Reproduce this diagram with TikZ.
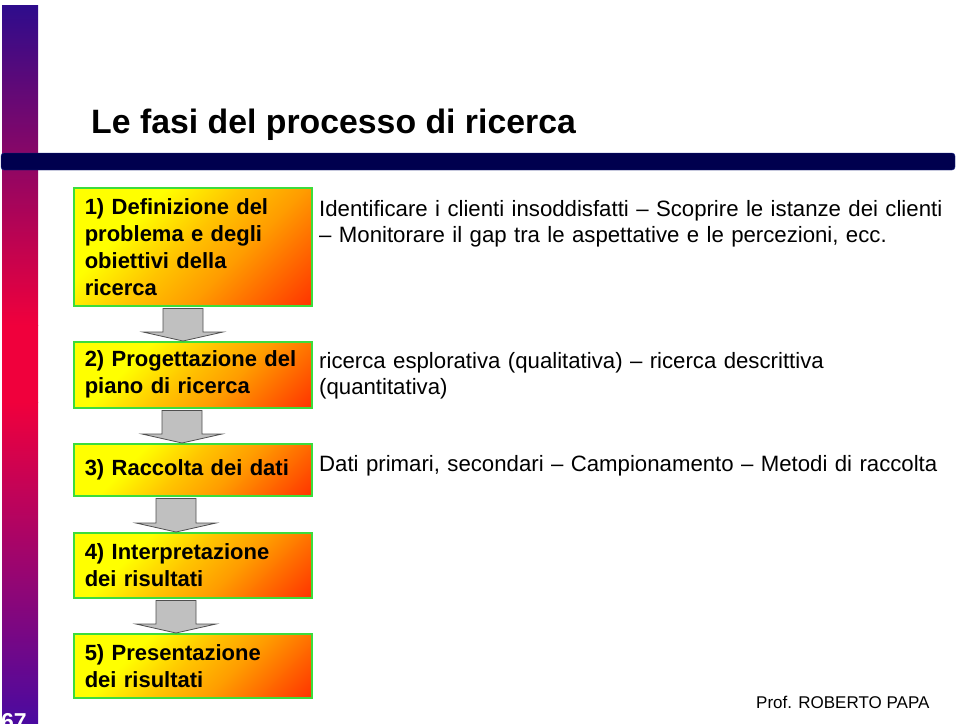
\documentclass[tikz,border=0pt]{standalone}
\usepackage{fontspec}
\setmainfont{Liberation Sans}
\usetikzlibrary{calc,positioning}
\tikzset{>=stealth}

\definecolor{phYellow}{HTML}{FFFF00}
\definecolor{phGold}{HTML}{FFC400}
\definecolor{phOrange}{HTML}{FF9C00}
\definecolor{phDeep}{HTML}{FF6400}
\definecolor{phRed}{HTML}{FF2800}
\definecolor{phGreen}{HTML}{3CDC3C}
\definecolor{barTop}{HTML}{2E0C8C}
\definecolor{barRed}{HTML}{F0003C}
\definecolor{barOrange}{HTML}{FF8C00}
\definecolor{barBottom}{HTML}{4A0AA0}
\definecolor{barNavy}{HTML}{00004E}
\definecolor{barEdge}{HTML}{1A2A8A}
\definecolor{arrowFill}{HTML}{C0C0C0}
\definecolor{arrowGray}{HTML}{505050}

\pgfdeclarehorizontalshading{phasefill}{100bp}{color(0bp)=(phYellow); color(33bp)=(phYellow); color(48bp)=(phGold); color(61bp)=(phOrange); color(74bp)=(phDeep); color(88bp)=(phRed); color(100bp)=(phRed)}

\tikzset{
  phase/.style={draw=phGreen, line width=1.5pt, shade, shading=phasefill,
    shading angle=-45, anchor=north west, minimum width=238pt,
    text width=216pt, inner xsep=11pt, inner ysep=0pt, align=left,
    font=\bfseries\fontsize{22}{27}\selectfont},
  desc/.style={anchor=base west, inner sep=0pt, text width=640pt, align=left,
    font=\fontsize{22.2}{26}\selectfont},
  flowarrow/.style={draw=arrowGray, fill=arrowFill, line width=0.8pt}
}

% block arrow between two phases, centred at x = #3
\newcommand{\phasearrow}[3]{%
  \coordinate (top) at (#1.south -| #3,0);
  \coordinate (tip) at (#2.north -| #3,0);
  \draw[flowarrow] ($(top)+(-20,2)$) -- ($(top)+(20,2)$) -- ($(tip)+(20,-9)$)
    -- ($(tip)+(40,-9)$) -- (tip) -- ($(tip)+(-40,-9)$) -- ($(tip)+(-20,-9)$) -- cycle;}

\begin{document}
\begin{tikzpicture}[x=1pt,y=-1pt]
\useasboundingbox (0,0) rectangle (960,723);

% side bar and rule
\shade[top color=barTop, bottom color=barRed] (2,5) rectangle (38,325);
\shade[top color=barRed, middle color=barOrange, bottom color=barRed] (2,325) rectangle (38,402);
\shade[top color=barRed, bottom color=barBottom] (2,402) rectangle (38,723);
\draw[barEdge, fill=barNavy, rounded corners=3pt] (1,153) rectangle (955,170);

\node[anchor=base west, inner sep=0pt, font=\bfseries\fontsize{33.8}{36}\selectfont]
  (title) at (91,133) {Le fasi del processo di ricerca};

\node[phase, minimum height=118pt] (p1) at (73,187) {1) Definizione del\\problema e degli\\obiettivi della\\ricerca};
\node[phase, minimum height=66pt]  (p2) at (73,341) {2) Progettazione del\\piano di ricerca};
\node[phase, minimum height=52pt]  (p3) at (73,443) {3) Raccolta dei dati};
\node[phase, minimum height=65pt]  (p4) at (73,532) {4) Interpretazione\\dei risultati};
\node[phase, minimum height=64pt]  (p5) at (73,633) {5) Presentazione\\dei risultati};

\foreach \a/\b/\x in {p1/p2/183,p2/p3/182,p3/p4/176,p4/p5/176}
  {\phasearrow{\a}{\b}{\x}}

\node[desc] (d1) at (319,216) {Identificare i clienti insoddisfatti – Scoprire le istanze dei clienti\\– Monitorare il gap tra le aspettative e le percezioni, ecc.};
\node[desc] (d2) at (319,368) {ricerca esplorativa (qualitativa) – ricerca descrittiva\\(quantitativa)};
\node[desc] (d3) at (319,471) {Dati primari, secondari – Campionamento – Metodi di raccolta};

\node[anchor=base west, inner sep=0pt, font=\fontsize{17}{20}\selectfont]
  (author) at (756,708) {Prof. ROBERTO PAPA};
\node[anchor=base west, inner sep=0pt, text=white, font=\bfseries\fontsize{23}{23}\selectfont]
  (pagenum) at (1,729) {67};
\end{tikzpicture}
\end{document}
